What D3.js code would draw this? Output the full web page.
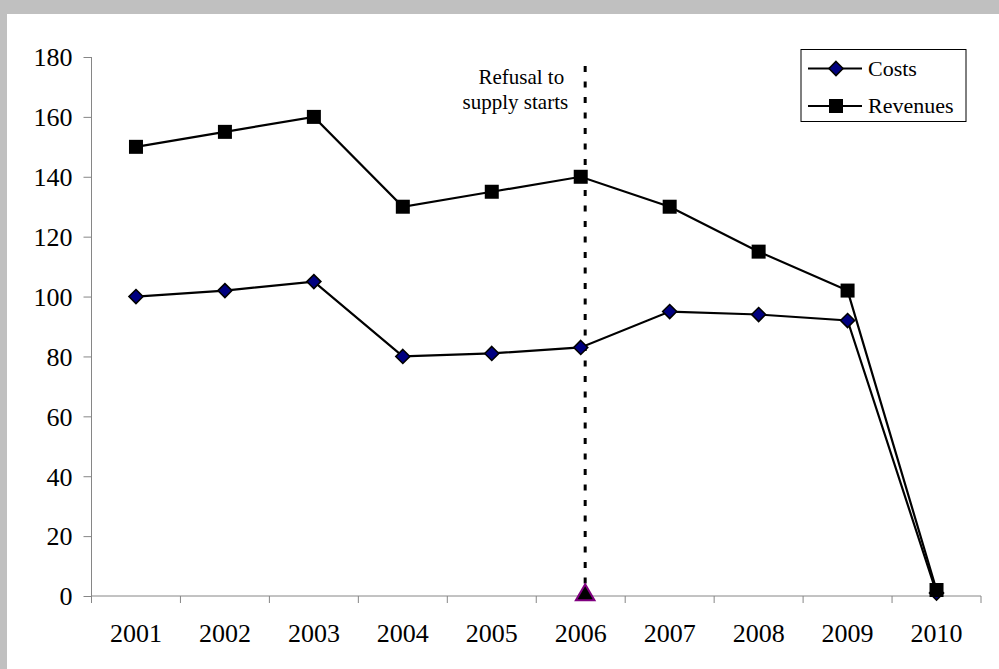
<!DOCTYPE html>
<html lang="en">
<head>
<meta charset="utf-8">
<title>Costs and revenues</title>
<style>
  body { margin: 0; background: #c0c0c0; }
  svg { display: block; }
  text { font-family: "Liberation Serif", "Times New Roman", serif; fill: #000; }
  .axis path, .axis line { stroke: #868686; }
</style>
<script src="https://d3js.org/d3.v7.min.js"></script>
</head>
<body>
<svg width="999" height="669"></svg>
<script>
// data
var years = ["2001", "2002", "2003", "2004", "2005", "2006", "2007", "2008", "2009", "2010"];
var costs = [100, 102, 105, 80, 81, 83, 95, 94, 92, 1];
var revenues = [150, 155, 160, 130, 135, 140, 130, 115, 102, 2];
var yTicks = [0, 20, 40, 60, 80, 100, 120, 140, 160, 180];
var eventYear = "2006";
var eventTop = 177;
var eventNote = ["Refusal to", "supply starts"];

var svg = d3.select("svg"),
    width = +svg.attr("width"),
    height = +svg.attr("height");

// white chart area on the grey frame
svg.append("rect")
    .attr("x", 7).attr("y", 14)
    .attr("width", width - 7).attr("height", height - 14)
    .attr("fill", "#fff");

var x = d3.scaleBand().domain(years).range([91.5, 981]).padding(0);
var y = d3.scaleLinear().domain([0, 180]).range([596, 57]);
var cx = function (yr) { return x(yr) + x.bandwidth() / 2; };

// y axis
var yAxis = svg.append("g")
    .attr("class", "axis")
    .attr("transform", "translate(91.5,0)")
    .call(d3.axisLeft(y).tickValues(yTicks).tickSize(8).tickPadding(11));
yAxis.select(".domain").attr("d", "M0," + y(180) + "V603");
yAxis.selectAll("text").style("font-size", "26px").attr("dy", "0.34em");

// x axis, ticks between categories
var xAxis = svg.append("g")
    .attr("class", "axis")
    .attr("transform", "translate(0,596)");
xAxis.append("line")
    .attr("x1", x.range()[0]).attr("x2", x.range()[1])
    .attr("stroke", "#868686");
xAxis.selectAll(".sep")
    .data(years.slice(1).concat(["end"]))
    .enter().append("line")
    .attr("x1", function (d, i) { return x.range()[0] + x.step() * (i + 1); })
    .attr("x2", function (d, i) { return x.range()[0] + x.step() * (i + 1); })
    .attr("y1", 0).attr("y2", 7)
    .attr("stroke", "#868686");
xAxis.selectAll(".lbl")
    .data(years)
    .enter().append("text")
    .attr("x", function (d) { return cx(d); })
    .attr("y", 46)
    .attr("text-anchor", "middle")
    .style("font-size", "26px")
    .text(function (d) { return d; });

// event line
var ex = cx(eventYear) + x.step() * 0.05;
svg.append("line")
    .attr("x1", ex).attr("x2", ex)
    .attr("y1", y(eventTop)).attr("y2", y(0))
    .attr("stroke", "#000")
    .attr("stroke-width", 3)
    .attr("stroke-dasharray", "6,9.5");
svg.selectAll(".note")
    .data(eventNote)
    .enter().append("text")
    .attr("x", ex - 17)
    .attr("dx", function (d, i) { return i === 0 ? -4 : 0; })
    .attr("y", function (d, i) { return 84 + i * 25; })
    .attr("text-anchor", "end")
    .style("font-size", "21px")
    .text(function (d) { return d; });

// series
var line = d3.line()
    .x(function (d, i) { return cx(years[i]); })
    .y(function (d) { return y(d); });

svg.append("path").datum(revenues)
    .attr("d", line).attr("fill", "none")
    .attr("stroke", "#000").attr("stroke-width", 2.2);
svg.append("path").datum(costs)
    .attr("d", line).attr("fill", "none")
    .attr("stroke", "#000").attr("stroke-width", 2.2);

var diamond = "M0,-7L7,0L0,7L-7,0Z";

svg.selectAll(".cost")
    .data(costs)
    .enter().append("path")
    .attr("d", diamond)
    .attr("transform", function (d, i) { return "translate(" + cx(years[i]) + "," + y(d) + ")"; })
    .attr("fill", "#000080")
    .attr("stroke", "#000")
    .attr("stroke-width", 1.6);

svg.selectAll(".rev")
    .data(revenues)
    .enter().append("rect")
    .attr("x", function (d, i) { return cx(years[i]) - 7; })
    .attr("y", function (d) { return y(d) - 7; })
    .attr("width", 14).attr("height", 14)
    .attr("fill", "#000");

// marker at the start of the refusal
svg.append("path")
    .attr("d", d3.symbol().type(d3.symbolTriangle).size(150))
    .attr("transform", "translate(" + ex + "," + (y(0) - 1) + ")")
    .attr("fill", "#000")
    .attr("stroke", "#800080")
    .attr("stroke-width", 2);

// legend
var legend = svg.append("g").attr("transform", "translate(801,49.5)");
legend.append("rect")
    .attr("width", 165).attr("height", 72)
    .attr("fill", "#fff").attr("stroke", "#000").attr("stroke-width", 1);
var items = [{ name: "Costs", y: 19 }, { name: "Revenues", y: 56.5 }];
items.forEach(function (it) {
    legend.append("line")
        .attr("x1", 7).attr("x2", 61)
        .attr("y1", it.y).attr("y2", it.y)
        .attr("stroke", "#000").attr("stroke-width", 2.2);
    if (it.name === "Costs") {
        legend.append("path").attr("d", diamond)
            .attr("transform", "translate(35," + it.y + ")")
            .attr("fill", "#000080").attr("stroke", "#000").attr("stroke-width", 1.6);
    } else {
        legend.append("rect")
            .attr("x", 28).attr("y", it.y - 7)
            .attr("width", 14).attr("height", 14)
            .attr("fill", "#000");
    }
    legend.append("text")
        .attr("x", 67).attr("y", it.y)
        .attr("dy", "0.34em")
        .style("font-size", "22px")
        .text(it.name);
});
</script>
</body>
</html>
